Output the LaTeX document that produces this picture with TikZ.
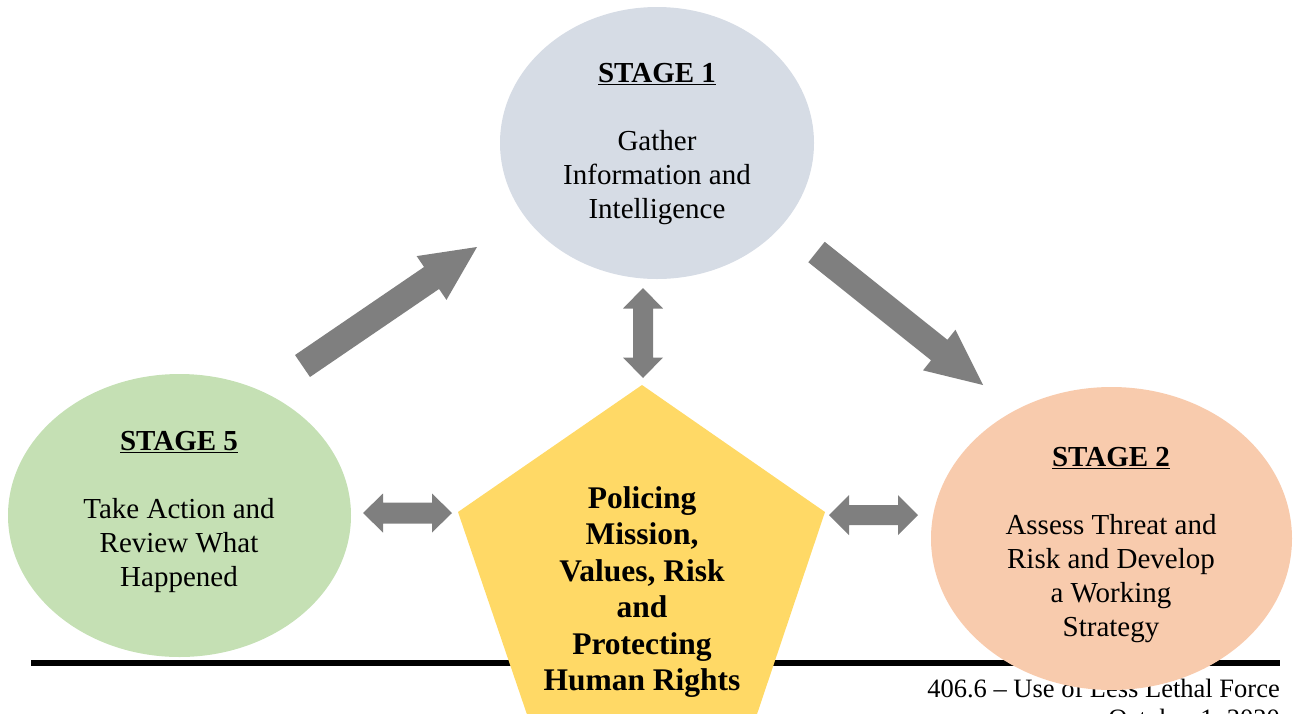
\documentclass[tikz,border=0pt]{standalone}
\usepackage{fontspec}
\setmainfont{Liberation Serif}
\usetikzlibrary{calc,shapes.geometric}
\definecolor{stageone}{HTML}{D6DCE5}
\definecolor{stagefive}{HTML}{C5E0B4}
\definecolor{stagetwo}{HTML}{F8CBAD}
\definecolor{pentafill}{HTML}{FFD966}
\definecolor{arrowgray}{HTML}{7F7F7F}
\tikzset{
  stageshape/.style={ellipse,draw=none,inner sep=0pt},
  stagetext/.style={align=center,inner sep=0pt,font=\fontsize{29}{34}\selectfont},
  centertext/.style={align=center,inner sep=0pt,font=\fontsize{31.5}{36.5}\selectfont\bfseries},
  footertext/.style={inner sep=0pt,font=\fontsize{26.5}{30}\selectfont},
  arrowfill/.style={fill=arrowgray,draw=none}
}
\newcommand\myblockarrow[5]{%
  \coordinate (tmpj) at ($(#2)!#5!(#1)$);
  \fill[arrowfill] ($(#1)!#3!90:(#2)$) -- ($(tmpj)!#3!-90:(#1)$) -- ($(tmpj)!#4!-90:(#1)$) -- (#2)
    -- ($(tmpj)!#4!90:(#1)$) -- ($(tmpj)!#3!90:(#1)$) -- ($(#1)!#3!-90:(#2)$) -- cycle;
}
\newcommand\mydoublearrow[5]{%
  \coordinate (tmpa) at ($(#1)!#5!(#2)$);
  \coordinate (tmpb) at ($(#2)!#5!(#1)$);
  \fill[arrowfill] (#1) -- ($(tmpa)!#4!90:(#2)$) -- ($(tmpa)!#3!90:(#2)$) -- ($(tmpb)!#3!-90:(#1)$)
    -- ($(tmpb)!#4!-90:(#1)$) -- (#2) -- ($(tmpb)!#4!90:(#1)$) -- ($(tmpb)!#3!90:(#1)$)
    -- ($(tmpa)!#3!-90:(#2)$) -- ($(tmpa)!#4!-90:(#2)$) -- cycle;
}
\begin{document}
\begin{tikzpicture}[x=1pt,y=-1pt]
\useasboundingbox (0,0) rectangle (1294,713);
\clip (0,0) rectangle (1294,713);
% footer rule and text (behind shapes)
\coordinate (ruleL) at (31,663);
\coordinate (ruleR) at (1280,663);
\draw[line width=5.5pt] (ruleL) -- (ruleR);
\node[footertext,anchor=base east] (foot1) at (1280,697) {406.6 – Use of Less Lethal Force};
\node[footertext,anchor=base east] (foot2) at (1280,727) {October 1, 2020};
% stages
\node[stageshape,fill=stageone,minimum width=314pt,minimum height=272pt] (s1) at (657,143) {};
\node[stageshape,fill=stagefive,minimum width=343pt,minimum height=283pt] (s5) at (179.5,515.5) {};
\node[stageshape,fill=stagetwo,minimum width=361pt,minimum height=303pt] (s2) at (1111.5,538.5) {};
\node[stagetext] (s1t) at (657,144) {\textbf{\underline{STAGE 1}}\\[34pt]Gather\\Information and\\Intelligence};
\node[stagetext] (s5t) at (179,511.5) {\textbf{\underline{STAGE 5}}\\[34pt]Take Action and\\Review What\\Happened};
\node[stagetext] (s2t) at (1111,545.5) {\textbf{\underline{STAGE 2}}\\[34pt]Assess Threat and\\Risk and Develop\\a Working\\Strategy};
% pentagon
\coordinate (pT) at (642,385);
\coordinate (pR) at (825,512);
\coordinate (pBR) at (750,735);
\coordinate (pBL) at (534,735);
\coordinate (pL) at (458,512);
\fill[pentafill] (pT) -- (pR) -- (pBR) -- (pBL) -- (pL) -- cycle;
\node[centertext] (core) at (642,592) {Policing\\Mission,\\Values, Risk\\and\\Protecting\\Human Rights};
% arrows
\coordinate (a51t) at (302.5,366);
\coordinate (a51h) at (477,247);
\myblockarrow{a51t}{a51h}{13.3pt}{26.5pt}{55pt}
\coordinate (a12t) at (816.5,252);
\coordinate (a12h) at (983,385);
\myblockarrow{a12t}{a12h}{13.1pt}{26pt}{56pt}
\coordinate (v1) at (643,288);
\coordinate (v2) at (643,378);
\mydoublearrow{v1}{v2}{10pt}{20pt}{20.5pt}
\coordinate (l1) at (363,513);
\coordinate (l2) at (452,513);
\mydoublearrow{l1}{l2}{10.5pt}{19.5pt}{20pt}
\coordinate (r1) at (829,515);
\coordinate (r2) at (918,515);
\mydoublearrow{r1}{r2}{10pt}{20pt}{20pt}
\end{tikzpicture}
\end{document}
